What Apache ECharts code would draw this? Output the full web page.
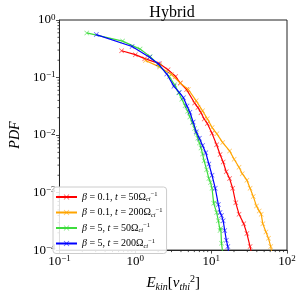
<!DOCTYPE html>
<html>
<head>
<meta charset="utf-8">
<script src="https://cdn.jsdelivr.net/npm/echarts@6/dist/echarts.min.js"></script>
<style>html,body{margin:0;padding:0;background:#fff}#c{width:299px;height:297px}</style>
</head>
<body>
<div id="c"></div>
<script>
// ---- data ----
const seriesNames = ['b01_t50', 'b01_t200', 'b5_t50', 'b5_t200'];
const seriesLabels = [
  ['0.1', '50'],
  ['0.1', '200'],
  ['5', '50'],
  ['5', '200']
];
const seriesColors = ['#ff0000', '#ffa500', '#3ddc3d', '#0000ff'];

// [E_kin, PDF]
const redData = [
  [0.659, 0.292], [1.0, 0.25], [1.33, 0.213], [2.09, 0.174], [2.7, 0.137], [3.40, 0.104],
  [3.92, 0.080], [4.75, 0.0617], [6.05, 0.036], [6.7, 0.030], [7.34, 0.0245], [8.1, 0.019],
  [8.9, 0.0159], [10.26, 0.0107], [11.8, 0.0068], [13.1, 0.0046], [14.4, 0.0034],
  [15.8, 0.0023], [17.5, 0.00175], [19.2, 0.00119], [21.1, 0.000664], [23.3, 0.000421],
  [26.9, 0.000286], [29.6, 0.000194], [32.6, 0.000115], [34.5, 0.00008]
];
const orangeData = [
  [1.36, 0.198], [2.09, 0.153], [3.0, 0.113], [3.92, 0.080], [5.0, 0.062], [6.35, 0.0393],
  [7.69, 0.0265], [8.9, 0.0192], [10.3, 0.0135], [11.9, 0.0105], [14.2, 0.0074],
  [17.5, 0.0053], [20.1, 0.0038], [23.3, 0.00275], [25.7, 0.00213], [29.6, 0.00164],
  [32.6, 0.00119], [35.9, 0.000857], [39.6, 0.000582], [43.0, 0.00048], [45.7, 0.000421],
  [48.0, 0.000286], [52.8, 0.000207], [57.0, 0.00016], [61.0, 0.000115], [64.0, 0.00008]
];
const greenData = [
  [0.229, 0.597], [0.679, 0.430], [1.155, 0.312], [1.57, 0.231], [2.1, 0.16], [2.8, 0.104],
  [3.3, 0.075], [3.73, 0.0542], [4.1, 0.042], [4.53, 0.0323], [4.9, 0.026], [5.24, 0.0205],
  [5.65, 0.0163], [6.05, 0.0130], [6.35, 0.0107], [6.66, 0.00883], [7.0, 0.0073],
  [7.34, 0.00598], [7.7, 0.0047], [8.07, 0.00357], [8.7, 0.0025], [9.33, 0.00175],
  [9.8, 0.0015], [10.26, 0.00119], [10.8, 0.00065], [11.3, 0.00068], [11.8, 0.00045],
  [12.45, 0.000325], [13.08, 0.00022], [13.4, 0.00024], [13.7, 0.000131], [14.2, 0.00009]
];
const blueData = [
  [0.306, 0.558], [0.906, 0.346], [1.54, 0.226], [2.0, 0.174], [2.6, 0.115], [3.23, 0.0703],
  [3.8, 0.055], [4.31, 0.0447], [4.8, 0.032], [5.24, 0.0249], [5.8, 0.0168], [6.35, 0.01146],
  [6.99, 0.00883], [7.7, 0.0066], [8.49, 0.00493], [9.33, 0.00314], [10.26, 0.0020],
  [11.32, 0.00119], [12.45, 0.00062], [13.08, 0.00045], [13.7, 0.00040], [14.39, 0.000325],
  [15.1, 0.00022], [15.85, 0.000149], [16.6, 0.000115], [17.0, 0.00009]
];

const xMin = 0.1, xMax = 100;
const yMin = 1e-4, yMax = 1;
const xMinorTicks = [0.2, 0.3, 0.4, 0.5, 0.6, 0.7, 0.8, 0.9, 2, 3, 4, 5, 6, 7, 8, 9, 20, 30, 40, 50, 60, 70, 80, 90];
const yMinorTicks = [2e-4, 3e-4, 4e-4, 5e-4, 6e-4, 7e-4, 8e-4, 9e-4,
  2e-3, 3e-3, 4e-3, 5e-3, 6e-3, 7e-3, 8e-3, 9e-3,
  2e-2, 3e-2, 4e-2, 5e-2, 6e-2, 7e-2, 8e-2, 9e-2,
  0.2, 0.3, 0.4, 0.5, 0.6, 0.7, 0.8, 0.9];

// ---- chart ----
const SERIF = '"Liberation Serif", "DejaVu Serif", serif';
const AXC = '#222';
const xSym = 'path://M0,1L1,0L5,4L9,0L10,1L6,5L10,9L9,10L5,6L1,10L0,9L4,5Z';

function powLabel(v) {
  const e = Math.round(Math.log10(v));
  const s = e < 0 ? '\u2212' + (-e) : String(e);
  return '{b|10}{s|' + s + '}';
}
const powRich = {
  b: { fontFamily: SERIF, fontSize: 13, color: '#000', lineHeight: 14 },
  s: { fontFamily: SERIF, fontSize: 9, color: '#000', verticalAlign: 'top', lineHeight: 9, padding: [0, 0, 6, 0] }
};

const allData = [redData, orangeData, greenData, blueData];
const lineSeries = allData.map((d, i) => ({
  name: seriesNames[i],
  type: 'line',
  data: d,
  symbol: xSym,
  symbolSize: 5,
  showSymbol: true,
  clip: true,
  lineStyle: { color: seriesColors[i], width: 1.2 },
  itemStyle: { color: seriesColors[i], opacity: 0.65 },
  z: 2 + i
}));

const minorX = {
  type: 'custom',
  data: xMinorTicks.map(v => [v, yMin]),
  renderItem: function (params, api) {
    const p = api.coord([api.value(0), api.value(1)]);
    return { type: 'line', shape: { x1: p[0], y1: p[1], x2: p[0], y2: p[1] + 2 }, style: { stroke: AXC, lineWidth: 0.8 } };
  },
  silent: true, z: 1
};
const minorY = {
  type: 'custom',
  data: yMinorTicks.map(v => [xMin, v]),
  renderItem: function (params, api) {
    const p = api.coord([api.value(0), api.value(1)]);
    return { type: 'line', shape: { x1: p[0], y1: p[1], x2: p[0] - 2, y2: p[1] }, style: { stroke: AXC, lineWidth: 0.8 } };
  },
  silent: true, z: 1
};

const chart = echarts.init(document.getElementById('c'), null, { renderer: 'canvas' });
chart.setOption({
  animation: false,
  backgroundColor: '#fff',
  title: {
    text: 'Hybrid', left: 167, top: 0, textAlign: 'center',
    textStyle: { fontFamily: SERIF, fontSize: 16, fontWeight: 'normal', color: '#000' }
  },
  grid: { left: 48, right: 12, top: 20, bottom: 40, show: true, borderColor: AXC, borderWidth: 1, backgroundColor: 'transparent' },
  legend: {
    data: seriesNames,
    orient: 'vertical',
    left: 53, top: 187,
    itemWidth: 21, itemHeight: 7, itemGap: 3.5,
    padding: [4, 4, 4, 2],
    borderColor: '#ccc', borderWidth: 1, borderRadius: 3,
    backgroundColor: 'rgba(255,255,255,0.85)',
    formatter: function (name) {
      const i = seriesNames.indexOf(name);
      const L = seriesLabels[i];
      return '{i|\u03b2}{n| = ' + L[0] + ', }{i|t}{n| = ' + L[1] + '\u03a9}{sub|ci}{sup|\u22121}';
    },
    textStyle: {
      rich: {
        n: { fontFamily: SERIF, fontSize: 10, color: '#000', lineHeight: 12 },
        i: { fontFamily: SERIF, fontStyle: 'italic', fontSize: 10, color: '#000', lineHeight: 12 },
        sub: { fontFamily: SERIF, fontStyle: 'italic', fontSize: 6.5, color: '#000', verticalAlign: 'bottom', lineHeight: 12, padding: [3, 0, 0, 0] },
        sup: { fontFamily: SERIF, fontSize: 6.5, color: '#000', verticalAlign: 'top', lineHeight: 7, padding: [0, 0, 5, 0] }
      }
    }
  },
  xAxis: {
    type: 'log', logBase: 10, min: xMin, max: xMax,
    name: '{i|E}{sub|kin}{n|[}{i|v}{sub|thi}{sup|2}{n|]}',
    nameLocation: 'middle', nameGap: 14,
    nameTextStyle: {
      rich: {
        i: { fontFamily: SERIF, fontStyle: 'italic', fontSize: 15, color: '#000', lineHeight: 18 },
        n: { fontFamily: SERIF, fontSize: 15, color: '#000', lineHeight: 18 },
        sub: { fontFamily: SERIF, fontStyle: 'italic', fontSize: 10, color: '#000', verticalAlign: 'bottom', lineHeight: 18, padding: [5, 0, 0, 0] },
        sup: { fontFamily: SERIF, fontSize: 10, color: '#000', verticalAlign: 'top', lineHeight: 10, padding: [0, 0, 8, 0] }
      }
    },
    axisLine: { show: true, lineStyle: { color: AXC, width: 1 } },
    axisTick: { show: true, inside: false, length: 3.5, lineStyle: { color: AXC, width: 0.8 } },
    axisLabel: { formatter: powLabel, rich: powRich, margin: 4 },
    splitLine: { show: false }
  },
  yAxis: {
    type: 'log', logBase: 10, min: yMin, max: yMax,
    name: 'PDF', nameLocation: 'middle', nameGap: 35, nameRotate: 90,
    nameTextStyle: { fontFamily: SERIF, fontStyle: 'italic', fontSize: 14, color: '#000' },
    axisLine: { show: true, lineStyle: { color: AXC, width: 1 } },
    axisTick: { show: true, inside: false, length: 3.5, lineStyle: { color: AXC, width: 0.8 } },
    axisLabel: { formatter: powLabel, rich: powRich, margin: 4 },
    splitLine: { show: false }
  },
  series: [minorX, minorY].concat(lineSeries)
});
</script>
</body>
</html>
